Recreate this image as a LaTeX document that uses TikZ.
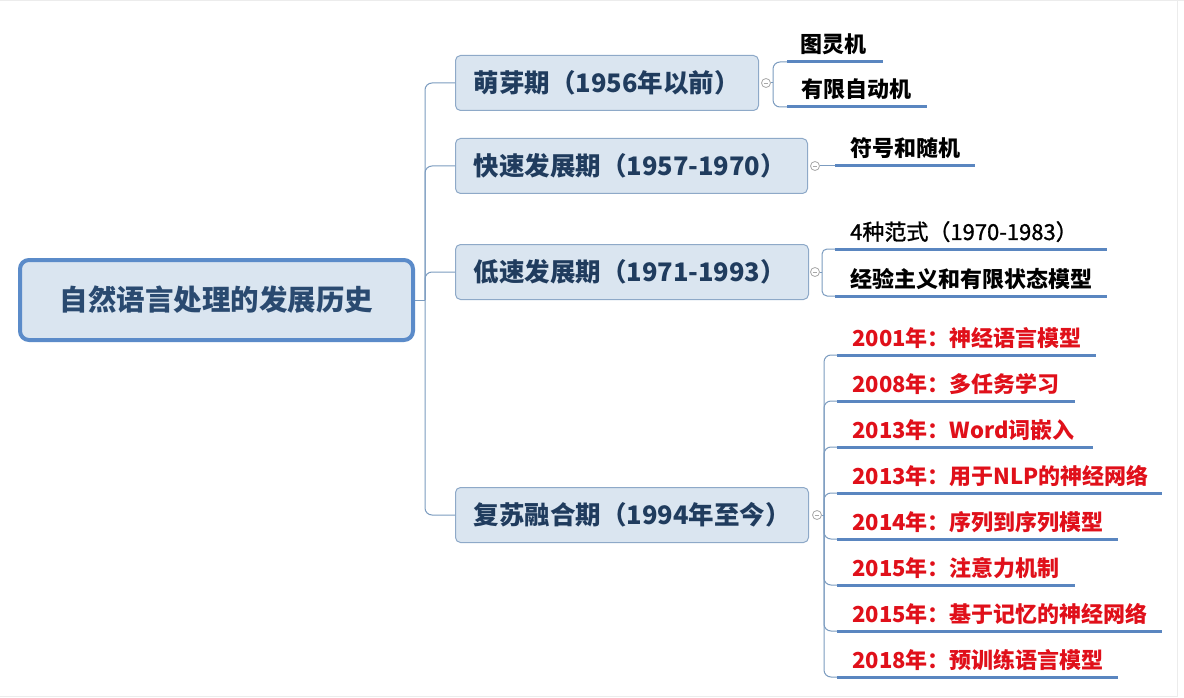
\documentclass[tikz,border=0pt]{standalone}
\usepackage{fontspec}
\setmainfont{Noto Sans CJK SC}
\newfontfamily\medfont{Noto Sans CJK SC}[FakeBold=1.2]
\definecolor{rootblue}{HTML}{5B8BC9}
\definecolor{boxfill}{HTML}{DAE5F0}
\definecolor{boxline}{HTML}{8EA9C8}
\definecolor{navy}{HTML}{203C5E}
\definecolor{rootnavy}{HTML}{2A4A70}
\definecolor{ulblue}{HTML}{5A86C0}
\definecolor{connblue}{HTML}{7C9CC0}
\definecolor{knobgray}{HTML}{A8A8A8}
\definecolor{nlpred}{HTML}{E0101A}
\definecolor{edgegray}{HTML}{ECECEC}
\begin{document}
\begin{tikzpicture}[x=1pt,y=-1pt,
  root/.style={draw=rootblue, line width=4pt, fill=boxfill, rounded corners=9pt,
    minimum width=393pt, minimum height=80pt, inner sep=0pt, text=rootnavy,
    font=\fontsize{28.5}{28.5}\selectfont\bfseries},
  branch/.style={draw=boxline, line width=1pt, fill=boxfill, rounded corners=5pt,
    minimum height=55pt, inner xsep=18pt, inner ysep=0pt, align=left, anchor=west,
    text=navy, font=\fontsize{25.5}{25.5}\selectfont\bfseries},
  leaf/.style={anchor=base west, inner sep=0pt, text=black,
    font=\fontsize{22}{22}\selectfont\bfseries},
  leafmed/.style={anchor=base west, inner sep=0pt, text=black,
    font=\fontsize{22}{22}\selectfont\medfont},
  redleaf/.style={leaf, text=nlpred},
  under/.style={draw=ulblue, line width=3pt},
  conn/.style={draw=connblue, line width=1pt, rounded corners=7pt},
  knob/.style={circle, draw=knobgray, line width=0.8pt, fill=white,
    minimum size=9pt, inner sep=0pt},
  minus/.style={draw=knobgray, line width=0.8pt}]
\useasboundingbox (0,0) rectangle (1184,698);
\fill[white] (0,0) rectangle (1184,698);
\draw[edgegray, line width=1pt] (0,0.5) -- (1184,0.5);
\draw[edgegray, line width=1pt] (1177,0) -- (1177,696) -- (0,696);

% root
\node[root] (root) at (216.5,300) {自然语言处理的发展历史};

% branches
\node[branch, minimum width=303pt, text width=267pt] (b1) at (455,83) {萌芽期（1956年以前）};
\node[branch, minimum width=352pt, text width=316pt] (b2) at (455,166) {快速发展期（1957-1970）};
\node[branch, minimum width=353pt, text width=317pt] (b3) at (455,272) {低速发展期（1971-1993）};
\node[branch, minimum width=353pt, text width=317pt] (b4) at (455,515) {复苏融合期（1994年至今）};

% spine
\coordinate (sp) at (425,300);
\draw[conn] (root.east) -- (sp);
\draw[conn] (sp) |- (b1.west);
\draw[conn] (sp) |- (b2.west);
\draw[conn] (sp) |- (b3.west);
\draw[conn] (sp) |- (b4.west);

% knobs
\node[knob] (k1) at (766,83) {};
\node[knob] (k2) at (815,166) {};
\node[knob] (k3) at (815,272) {};
\node[knob] (k4) at (817,515) {};
\foreach \k in {k1,k2,k3,k4}{
  \draw[minus] ([xshift=-2.3pt]\k.center) -- ([xshift=2.3pt]\k.center);
}

% ---- branch 1 leaves
\coordinate (j1) at (773,83);
\coordinate (u11s) at (787,62);  \coordinate (u11e) at (883,62);
\coordinate (u12s) at (787,107); \coordinate (u12e) at (927,107);
\draw[conn] (k1.east) -- (j1);
\draw[conn] (j1) |- (u11s);
\draw[conn] (j1) |- (u12s);
\draw[under] (u11s) -- (u11e);
\draw[under] (u12s) -- (u12e);
\node[leaf] (l11) at (800,53) {图灵机};
\node[leaf] (l12) at (801,98) {有限自动机};

% ---- branch 2 leaf
\coordinate (u21s) at (835,166); \coordinate (u21e) at (975,166);
\draw[conn] (k2.east) -- (u21s);
\draw[under] (u21s) -- (u21e);
\node[leaf] (l21) at (850,157) {符号和随机};

% ---- branch 3 leaves
\coordinate (j3) at (822,272);
\coordinate (u31s) at (835,249); \coordinate (u31e) at (1107,249);
\coordinate (u32s) at (835,296); \coordinate (u32e) at (1107,296);
\draw[conn] (k3.east) -- (j3);
\draw[conn, rounded corners=5pt] (j3) |- (u31s);
\draw[conn, rounded corners=5pt] (j3) |- (u32s);
\draw[under] (u31s) -- (u31e);
\draw[under] (u32s) -- (u32e);
\node[leafmed] (l31) at (850,240) {4种范式（1970-1983）};
\node[leaf] (l32) at (850,287) {经验主义和有限状态模型};

% ---- branch 4 leaves
\coordinate (j4) at (824,515);
\draw[conn] (k4.east) -- (j4);
\foreach \i/\y/\e/\t in {
  1/355/1096/{2001年：神经语言模型},
  2/401/1075/{2008年：多任务学习},
  3/447/1093/{2013年：Word词嵌入},
  4/493/1162/{2013年：用于NLP的神经网络},
  5/539/1118/{2014年：序列到序列模型},
  6/585/1075/{2015年：注意力机制},
  7/631/1162/{2015年：基于记忆的神经网络},
  8/677/1118/{2018年：预训练语言模型}}{
  \coordinate (u4\i s) at (837,\y);
  \coordinate (u4\i e) at (\e,\y);
  \draw[conn] (j4) |- (u4\i s);
  \draw[under] (u4\i s) -- (u4\i e);
  \node[redleaf] (l4\i) at (852,\y-9) {\t};
}
\end{tikzpicture}
\end{document}
